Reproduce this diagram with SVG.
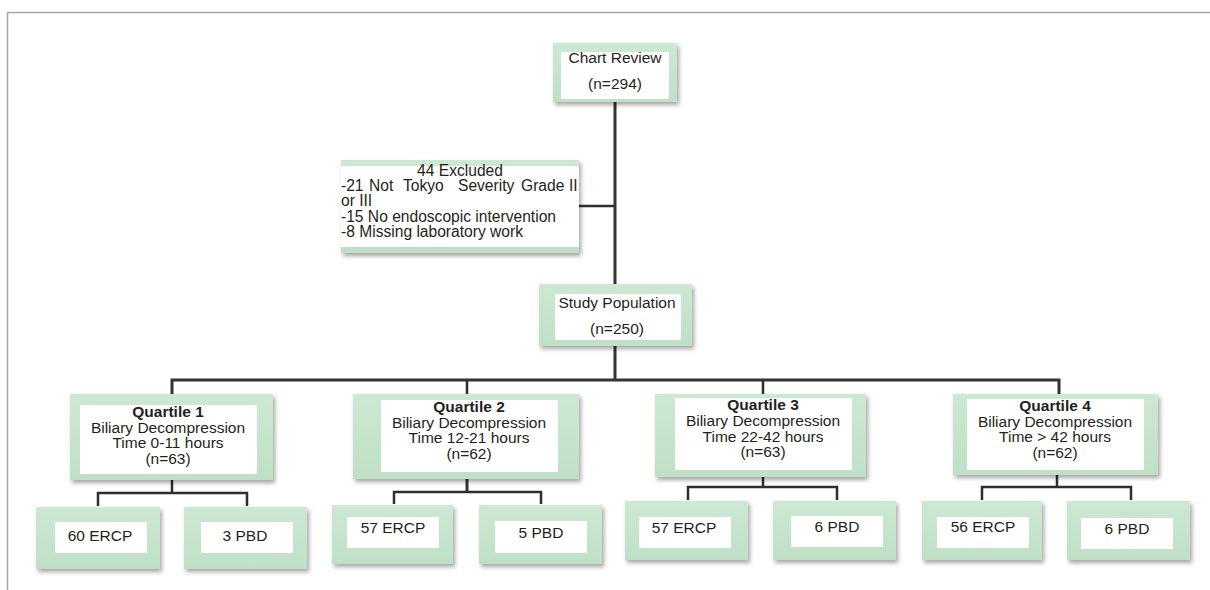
<svg xmlns="http://www.w3.org/2000/svg" width="1210" height="590" viewBox="0 0 1210 590">
<defs>
<linearGradient id="g" x1="0" y1="0" x2="0" y2="1">
<stop offset="0" stop-color="#cde8d3"/>
<stop offset="1" stop-color="#bfe0c6"/>
</linearGradient>
<filter id="sh" x="-10%" y="-10%" width="125%" height="130%">
<feDropShadow dx="2" dy="3" stdDeviation="2" flood-color="#000" flood-opacity="0.35"/>
</filter>
</defs>
<style>
.box{fill:url(#g);filter:url(#sh)}
.in{fill:#fff}
text{font-family:"Liberation Sans",Arial,sans-serif;font-size:15.5px;fill:#231f20}
.c{text-anchor:middle}
.b{font-weight:bold}
.ex{font-size:15.6px}
.bus{stroke:#333;stroke-width:3;fill:none}
.ln{stroke:#2e2e2e;stroke-width:2.5;fill:none}
.frame{stroke:#a6a6a6;stroke-width:1.5;fill:none}
</style>
<path class="frame" d="M7.5,590 V12.5 H1210"/>
<g id="connectors">
<path class="bus" d="M615,102 V284"/>
<path class="ln" d="M579,206 H615"/>
<path class="bus" d="M615,346 V380"/>
<path class="bus" d="M172,394 V380 H1059 V394"/>
<path class="ln" d="M467,380 V394"/>
<path class="ln" d="M763,380 V394"/>
<path class="ln" d="M172,480 V493"/>
<path class="ln" d="M98,506 V493 H247 V506"/>
<path class="bus" d="M467,479 V492"/>
<path class="ln" d="M394,504 V492 H541 V504"/>
<path class="ln" d="M763,477 V487"/>
<path class="ln" d="M688,500 V487 H837 V500"/>
<path class="ln" d="M1057,475 V487"/>
<path class="ln" d="M982,500 V487 H1131 V500"/>
</g>
<g id="chart-review">
<rect class="box" x="553" y="43" width="124" height="59"/>
<rect class="in" x="561" y="52" width="108" height="47"/>
<text class="c" x="615" y="63">Chart Review</text>
<text class="c" x="615" y="89">(n=294)</text>
</g>
<g id="excluded">
<rect class="box" x="341" y="160" width="238" height="93"/>
<rect class="in" x="341" y="166" width="238" height="81"/>
<text class="ex c" x="460" y="176">44 Excluded</text>
<text class="ex" y="191"><tspan x="341">-21</tspan><tspan x="369">Not</tspan><tspan x="403">Tokyo</tspan><tspan x="458">Severity</tspan><tspan x="521">Grade</tspan><tspan x="569">II</tspan></text>
<text class="ex" x="341" y="206">or III</text>
<text class="ex" x="341" y="222">-15 No endoscopic intervention</text>
<text class="ex" x="341" y="237">-8 Missing laboratory work</text>
</g>
<g id="study-population">
<rect class="box" x="539" y="284" width="153" height="62"/>
<rect class="in" x="555" y="294" width="126" height="46"/>
<text class="c" x="617" y="308">Study Population</text>
<text class="c" x="617" y="334">(n=250)</text>
</g>
<g id="quartile-1">
<rect class="box" x="70" y="394" width="203" height="86"/>
<rect class="in" x="80" y="405" width="177" height="69"/>
<text class="c b" x="168" y="417">Quartile 1</text>
<text class="c" x="168" y="433">Biliary Decompression</text>
<text class="c" x="168" y="448">Time 0-11 hours</text>
<text class="c" x="168" y="464">(n=63)</text>
</g>
<g id="quartile-2">
<rect class="box" x="353" y="394" width="226" height="85"/>
<rect class="in" x="381" y="400" width="177" height="72"/>
<text class="c b" x="469" y="412">Quartile 2</text>
<text class="c" x="469" y="428">Biliary Decompression</text>
<text class="c" x="469" y="443">Time 12-21 hours</text>
<text class="c" x="469" y="459">(n=62)</text>
</g>
<g id="quartile-3">
<rect class="box" x="655" y="394" width="211" height="83"/>
<rect class="in" x="675" y="398" width="177" height="72"/>
<text class="c b" x="763" y="410">Quartile 3</text>
<text class="c" x="763" y="426">Biliary Decompression</text>
<text class="c" x="763" y="442">Time 22-42 hours</text>
<text class="c" x="763" y="457">(n=63)</text>
</g>
<g id="quartile-4">
<rect class="box" x="953" y="394" width="205" height="81"/>
<rect class="in" x="967" y="399" width="177" height="71"/>
<text class="c b" x="1055" y="411">Quartile 4</text>
<text class="c" x="1055" y="427">Biliary Decompression</text>
<text class="c" x="1055" y="442">Time &gt; 42 hours</text>
<text class="c" x="1055" y="458">(n=62)</text>
</g>
<g id="q1-ercp">
<rect class="box" x="36" y="507" width="124" height="62"/>
<rect class="in" x="55" y="522" width="92" height="31"/>
<text class="c" x="100" y="541">60 ERCP</text>
</g>
<g id="q1-pbd">
<rect class="box" x="184" y="507" width="123" height="62"/>
<rect class="in" x="201" y="522" width="92" height="31"/>
<text class="c" x="245" y="541">3 PBD</text>
</g>
<g id="q2-ercp">
<rect class="box" x="332" y="505" width="121" height="59"/>
<rect class="in" x="347" y="517" width="92" height="31"/>
<text class="c" x="393" y="533">57 ERCP</text>
</g>
<g id="q2-pbd">
<rect class="box" x="479" y="505" width="123" height="59"/>
<rect class="in" x="495" y="521" width="92" height="32"/>
<text class="c" x="541" y="538">5 PBD</text>
</g>
<g id="q3-ercp">
<rect class="box" x="625" y="501" width="123" height="59"/>
<rect class="in" x="639" y="517" width="92" height="31"/>
<text class="c" x="684" y="533">57 ERCP</text>
</g>
<g id="q3-pbd">
<rect class="box" x="773" y="501" width="123" height="59"/>
<rect class="in" x="791" y="516" width="92" height="31"/>
<text class="c" x="837" y="532">6 PBD</text>
</g>
<g id="q4-ercp">
<rect class="box" x="922" y="501" width="120" height="59"/>
<rect class="in" x="937" y="517" width="92" height="31"/>
<text class="c" x="983" y="532">56 ERCP</text>
</g>
<g id="q4-pbd">
<rect class="box" x="1067" y="501" width="123" height="59"/>
<rect class="in" x="1081" y="518" width="92" height="31"/>
<text class="c" x="1127" y="534">6 PBD</text>
</g>
</svg>
